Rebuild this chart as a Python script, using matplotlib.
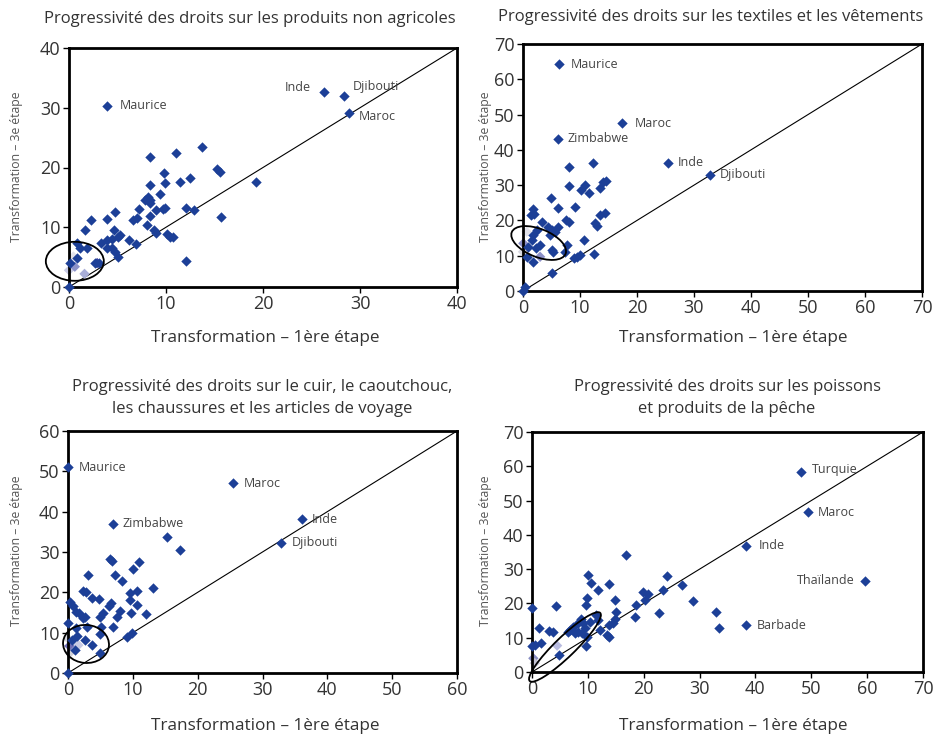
import matplotlib.pyplot as plt
from matplotlib.patches import Ellipse
from matplotlib.transforms import ScaledTranslation

plt.rcParams['font.family'] = ['Open Sans', 'DejaVu Sans']

BLUE = '#1c3f97'
TXT = '#333333'

# produits non agricoles
x1 = [0, 8.4, 11.0, 13.7, 15.3, 15.6, 19.3, 9.76, 9.9, 8.4, 11.4, 12.5, 8.1, 7.8, 8.3, 9.4, 8.4, 7.25, 9.0, 9.7,
      9.9, 12.1, 12.9, 8.3, 6.98, 6.6, 8.0, 8.8, 9.0, 10.1, 10.4, 10.7, 15.7, 12.1, 2.3, 1.65, 3.95, 4.7, 0.8, 1.1,
      1.9, 3.3, 3.9, 4.6, 4.4, 5.1, 5.3, 6.2, 6.9, 4.4, 4.7, 5.1, 2.7, 3.1, 0.1, 0.8, 3.9]
y1 = [0, 21.7, 22.5, 23.4, 19.7, 19.2, 17.6, 19.0, 17.4, 17.1, 17.5, 18.2, 15.0, 14.6, 14.5, 15.6, 14.1, 13.0, 12.9, 13.0,
      13.3, 13.3, 12.9, 11.8, 11.5, 11.2, 10.4, 9.5, 9.0, 8.8, 8.4, 8.3, 11.7, 4.4, 11.2, 9.5, 11.3, 12.6, 7.3, 6.5,
      6.5, 7.3, 7.9, 9.5, 8.1, 8.4, 8.7, 7.8, 7.2, 6.5, 5.9, 5.1, 4.0, 4.0, 4.0, 4.8, 6.5]
lab1 = ['Maurice', 'Inde', 'Djibouti', 'Maroc']
lx1 = [3.95, 26.3, 28.35, 28.9]
ly1 = [30.3, 32.6, 32.0, 29.2]
fx1 = [0.0, 0.45, 0.6, 1.6, 2.9]
fy1 = [2.8, 5.1, 3.4, 2.2, 4.0]
fc1 = ['#c9cbe6', '#e2e2ea', '#8c92c9', '#a9aed8', '#3b3fa3']

# textiles et vêtements
x2 = [0, 0.35, 8.1, 12.2, 8.1, 10.8, 10.2, 11.6, 13.5, 14.0, 14.6, 4.85, 6.1, 9.1, 7.5, 8.1, 13.5, 14.3, 12.6, 12.9,
      1.7, 1.35, 1.9, 3.3, 4.4, 5.0, 6.2, 5.6, 2.4, 1.8, 1.5, 3.0, 2.3, 0.9, 7.7, 5.0, 5.3, 7.4, 10.7, 10.0,
      9.4, 8.9, 12.5, 5.0, 0.64, 1.8, 4.7]
y2 = [0, 1.2, 35.0, 36.2, 29.7, 30.0, 28.6, 27.9, 29.1, 31.0, 31.3, 26.4, 23.4, 23.7, 20.1, 19.5, 21.5, 22.0, 19.2, 18.4,
      23.1, 21.5, 21.8, 19.6, 18.2, 17.3, 18.2, 16.8, 17.3, 15.9, 14.4, 13.0, 12.1, 12.6, 13.0, 11.6, 11.1, 11.1, 14.4, 10.2,
      9.7, 9.25, 10.4, 5.0, 9.5, 8.3, 15.9]
lab2 = ['Maurice', 'Maroc', 'Zimbabwe', 'Inde', 'Djibouti']
lx2 = [6.4, 17.4, 6.14, 25.4, 32.8]
ly2 = [64.2, 47.6, 43.2, 36.4, 33.0]
fx2 = [0.64, 0.06, 0.0, 3.0]
fy2 = [16.8, 13.5, 11.1, 9.7]
fc2 = ['#e2e2ea', '#8a8fc9', '#d8d8e0', '#8c90c8']

# cuir, caoutchouc, chaussures
x3 = [0, 15.3, 17.2, 6.5, 6.8, 3.1, 7.25, 8.4, 10.1, 11.0, 13.1, 2.3, 2.8, 3.65, 4.8, 9.6, 10.7, 9.6, 10.7, 6.6,
      6.4, 8.0, 7.5, 9.7, 12.0, 5.45, 4.9, 7.0, 9.05, 9.8, 0.3, 0.7, 1.3, 1.75, 0.05, 2.3, 2.6, 2.9, 1.3, 5.1,
      1.4, 4.9, 3.65, 4.9, 2.6, 0.6, 1.1]
y3 = [0, 33.8, 30.5, 28.2, 27.8, 24.3, 24.3, 22.8, 25.7, 27.5, 21.0, 20.3, 20.2, 18.5, 18.3, 19.9, 20.3, 18.1, 16.9, 17.3,
      16.6, 15.4, 14.0, 15.0, 14.6, 15.0, 14.0, 11.3, 9.0, 9.8, 17.7, 16.5, 15.2, 14.8, 12.3, 13.6, 14.0, 11.3, 11.1, 11.5,
      9.2, 9.7, 6.9, 4.9, 8.2, 8.2, 5.7]
lab3 = ['Maurice', 'Maroc', 'Zimbabwe', 'Inde', 'Djibouti']
lx3 = [0.05, 25.5, 6.9, 36.1, 32.9]
ly3 = [51.0, 47.1, 37.0, 38.1, 32.3]
fx3 = [0.0, 0.3, 1.6, 0.2]
fy3 = [8.5, 5.0, 6.9, 6.7]
fc3 = ['#d9d9df', '#d0d0d8', '#c8cae4', '#6f6fb8']

# poissons et produits de la pêche
x4 = [16.9, 10.0, 10.5, 11.9, 13.7, 9.9, 9.7, 14.8, 15.1, 14.8, 14.5, 13.7, 13.4, 13.8, 11.9, 11.4, 12.2, 8.8, 8.3, 7.4,
      6.8, 6.5, 9.2, 9.5, 9.8, 8.9, 8.3, 7.7, 9.7, 10.4, 0, 4.3, 1.3, 3.1, 3.7, 0, 0.5, 1.55, 4.9, 18.7,
      20.2, 19.8, 20.8, 18.4, 22.8, 23.5, 24.1, 26.9, 28.9, 33.0, 33.5]
y4 = [34.1, 28.3, 25.9, 23.9, 25.7, 21.7, 19.5, 21.0, 17.6, 15.6, 14.2, 13.7, 10.8, 10.3, 15.2, 16.6, 12.2, 15.6, 14.2, 13.2,
      12.2, 11.8, 14.2, 12.7, 10.3, 11.3, 11.8, 11.3, 7.6, 14.7, 18.8, 19.2, 12.9, 12.1, 11.6, 7.6, 7.9, 8.6, 5.0, 19.5,
      21.0, 23.4, 22.7, 16.1, 17.3, 23.9, 28.0, 25.4, 20.7, 17.6, 12.7]
lab4 = ['Turquie', 'Maroc', 'Inde', 'Thaïlande', 'Barbade']
lx4 = [48.1, 49.4, 38.4, 59.6, 38.4]
ly4 = [58.4, 46.6, 36.8, 26.6, 13.7]
fx4 = [4.5, 0.24, 0.5]
fy4 = [7.7, 4.0, 2.6]
fc4 = ['#b9bce0', '#8a8fc4', '#c4c4d4']

titles = ['Progressivité des droits sur les produits non agricoles',
          'Progressivité des droits sur les textiles et les vêtements',
          'Progressivité des droits sur le cuir, le caoutchouc,\nles chaussures et les articles de voyage',
          'Progressivité des droits sur les poissons\net produits de la pêche']
xlab = 'Transformation – 1ère étape'
ylab = 'Transformation – 3e étape'


def panel(fig, rect, x, y, names, lx, ly, offs, fx, fy, fc, top, ell):
    ax = fig.add_axes(rect)
    ax.set_xlim(0, top)
    ax.set_ylim(0, top)
    ax.set_xticks(range(0, top + 1, 10))
    ax.set_yticks(range(0, top + 1, 10))
    ax.plot([0, top], [0, top], color='k', lw=0.8, zorder=1)
    ax.scatter(fx, fy, marker='D', s=28, c=fc, linewidths=0, zorder=2, clip_on=False)
    ax.scatter(x, y, marker='D', s=28, color=BLUE, linewidths=0, zorder=3, clip_on=False)
    ax.scatter(lx, ly, marker='D', s=28, color=BLUE, linewidths=0, zorder=3, clip_on=False)
    for n, a, b, (dx, dy, ha) in zip(names, lx, ly, offs):
        ax.annotate(n, (a, b), xytext=(dx * 0.72, dy * 0.72), textcoords='offset points',
                    ha=ha, va='center', fontsize=9, color='#444444')
    cx, cy, w, h, ang = ell
    e = Ellipse((0, 0), w / 100, h / 100, angle=ang, fill=False, ec='k', lw=1.3,
                transform=fig.dpi_scale_trans + ScaledTranslation(cx, cy, ax.transData),
                clip_on=False, zorder=4)
    ax.add_patch(e)
    for s in ax.spines.values():
        s.set_linewidth(2.0)
    ax.tick_params(direction='out', length=4, width=1, labelsize=13, labelcolor=TXT, pad=2)
    return ax


fig = plt.figure(figsize=(9.36, 7.36), dpi=100)

W, H = 936, 736


def rect(l, r, t, b):
    return [l / W, 1 - b / H, (r - l) / W, (b - t) / H]


panel(fig, rect(69, 457, 48, 287), x1, y1, lab1, lx1, ly1,
      [(12, 0, 'left'), (-13, 5, 'right'), (9, 9, 'left'), (9, -4, 'left')],
      fx1, fy1, fc1, 40, (0.6, 4.3, 58, 39, 0))
panel(fig, rect(523, 922, 44, 291), x2, y2, lab2, lx2, ly2,
      [(11, 0, 'left'), (13, 0, 'left'), (10, 0, 'left'), (10, 0, 'left'), (10, 0, 'left')],
      fx2, fy2, fc2, 70, (2.75, 13.6, 58, 28, -22))
panel(fig, rect(68, 457, 431, 673), x3, y3, lab3, lx3, ly3,
      [(10, 0, 'left')] * 5,
      fx3, fy3, fc3, 60, (2.78, 7.2, 46, 38, -5))
panel(fig, rect(532, 923, 432, 672), x4, y4, lab4, lx4, ly4,
      [(11, 2, 'left'), (10, 0, 'left'), (12, 0, 'left'), (-10, 0, 'right'), (10, 0, 'left')],
      fx4, fy4, fc4, 70, (5.9, 7.3, 98, 20, 44))

# titles and axis names
for tx, ty, t in [(250, 19, titles[0]), (711, 17, titles[1]), (262, 398, titles[2]), (727, 398, titles[3])]:
    fig.text(tx / W, 1 - ty / H, t, ha='center', va='center', fontsize=12,
             color=TXT, linespacing=1.45, multialignment='center')
for tx, ty in [(265, 338), (733, 338), (265, 726), (733, 726)]:
    fig.text(tx / W, 1 - ty / H, xlab, ha='center', va='center', fontsize=12.3, color=TXT)
for tx, ty in [(17, 167), (485, 167), (17, 551), (485, 551)]:
    fig.text(tx / W, 1 - ty / H, ylab, ha='center', va='center', rotation=90, fontsize=8.8, color='#555555')

fig.savefig('out.png', dpi=100)
